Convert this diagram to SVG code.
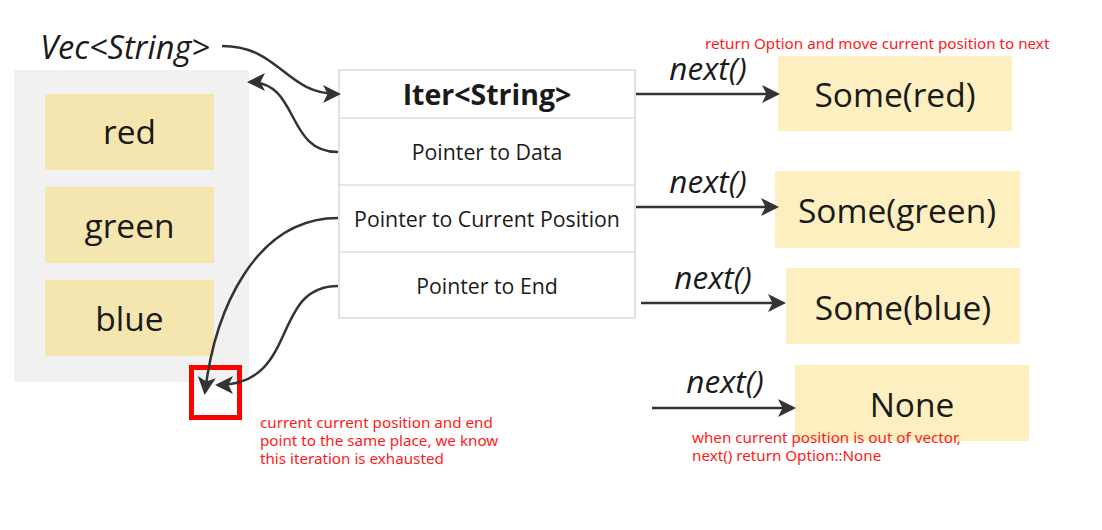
<svg xmlns="http://www.w3.org/2000/svg" width="1102" height="530" viewBox="0 0 1102 530">
<style>
.t{font-family:"Open Sans","Liberation Sans",sans-serif;fill:#1a1a1a;text-anchor:middle}
.big{font-size:33.5px}
.row{font-size:21.3px}
.nx{font-family:"Open Sans","Liberation Sans",sans-serif;font-style:italic;font-size:31.5px;fill:#1a1a1a;text-anchor:middle}
.note{font-family:"Noto Sans","Liberation Sans",sans-serif;font-size:15.2px;fill:#ff1a1a}
.item{fill:#f5e6b0}
.res{fill:#fdefbf}
.con{fill:none;stroke:#333;stroke-width:2.5}
.sep{stroke:#cfcfcf;stroke-width:1.2}
</style>
<defs>
<marker id="ah2" viewBox="0 0 12 12" refX="10" refY="6" markerWidth="18" markerHeight="18" markerUnits="userSpaceOnUse" orient="auto">
<path d="M0,0 L12,6 L0,12 L3,6 Z" fill="#333"/>
</marker>
</defs>
<rect width="1102" height="530" fill="#fff"/>
<g id="vec">
<text x="125" y="59" class="t" font-style="italic" font-size="32.5">Vec&lt;String&gt;</text>
<rect x="14" y="70" width="235" height="312" fill="#f1f1f1"/>
</g>
<g id="red"><rect class="item" x="45" y="94" width="169" height="76"/><text class="t big" x="129.5" y="144">red</text></g>
<g id="green"><rect class="item" x="45" y="187" width="169" height="76"/><text class="t big" x="129.5" y="238">green</text></g>
<g id="blue"><rect class="item" x="45" y="280" width="169" height="76"/><text class="t big" x="129.5" y="331">blue</text></g>
<g id="iter">
<rect x="339" y="70" width="296" height="248" fill="#fff" stroke="#cfcfcf" stroke-width="1.2"/>
<line class="sep" x1="339" y1="118" x2="635" y2="118"/>
<line class="sep" x1="339" y1="185" x2="635" y2="185"/>
<line class="sep" x1="339" y1="252" x2="635" y2="252"/>
<text class="t" x="487" y="105" font-size="28.5" font-weight="bold">Iter&lt;String&gt;</text>
<text class="t row" x="487" y="160">Pointer to Data</text>
<text class="t row" x="487" y="227">Pointer to Current Position</text>
<text class="t row" x="487" y="294">Pointer to End</text>
</g>
<g id="some-red"><rect class="res" x="778" y="56" width="234" height="75"/><text class="t big" x="895" y="107">Some(red)</text></g>
<g id="some-green"><rect class="res" x="775" y="171" width="245" height="77"/><text class="t big" x="897" y="223">Some(green)</text></g>
<g id="some-blue"><rect class="res" x="786" y="268" width="234" height="76"/><text class="t big" x="903" y="320">Some(blue)</text></g>
<g id="none"><rect class="res" x="795" y="365" width="234" height="76"/><text class="t big" x="912" y="417">None</text></g>
<g id="end-marker"><rect x="191.5" y="367.5" width="48" height="50" fill="none" stroke="#ff0000" stroke-width="5"/></g>
<g id="connectors">
<path class="con" d="M222,46 C280,46 285,94 338,94" marker-end="url(#ah2)"/>
<path class="con" d="M338,152 C285,152 300,82 250,82" marker-end="url(#ah2)"/>
<path class="con" d="M338,218 C255,218 215,310 205,392" marker-end="url(#ah2)"/>
<path class="con" d="M338,286 C270,286 300,385 218,385" marker-end="url(#ah2)"/>
<path class="con" d="M636,94 L777,94" marker-end="url(#ah2)"/>
<path class="con" d="M636,207 L776,207" marker-end="url(#ah2)"/>
<path class="con" d="M641,303 L783,303" marker-end="url(#ah2)"/>
<path class="con" d="M652,408 L793,408" marker-end="url(#ah2)"/>
</g>
<g id="labels">
<text class="nx" x="708" y="80">next()</text>
<text class="nx" x="708" y="193">next()</text>
<text class="nx" x="713" y="289">next()</text>
<text class="nx" x="725" y="393">next()</text>
<text class="note" x="705" y="49">return Option and move current position to next</text>
<text class="note" x="260" y="428">current current position and end</text>
<text class="note" x="260" y="446">point to the same place, we know</text>
<text class="note" x="260" y="464">this iteration is exhausted</text>
<text class="note" x="692" y="443">when current position is out of vector,</text>
<text class="note" x="692" y="461">next() return Option::None</text>
</g>
</svg>
